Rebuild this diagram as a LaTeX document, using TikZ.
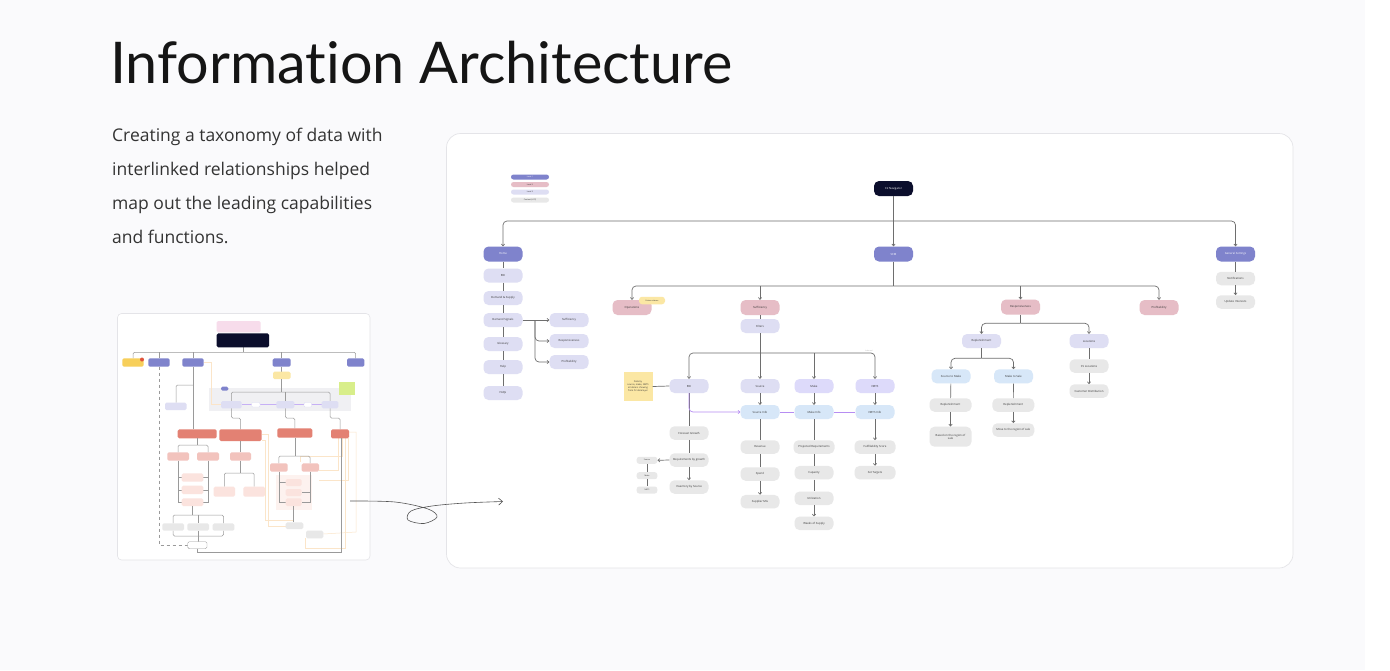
\documentclass[tikz,border=0pt]{standalone}
\usepackage{fontspec}
\setmainfont{Open Sans}
\newfontfamily\titlefont[Ligatures={NoCommon}]{Lato}
\usetikzlibrary{arrows.meta}
\definecolor{bgc}{HTML}{FAFAFC}
\definecolor{panelb}{HTML}{E4E4E8}
\definecolor{titlec}{HTML}{151515}
\definecolor{bodyc}{HTML}{333333}
\definecolor{lvone}{HTML}{7F83CC}
\definecolor{pinkc}{HTML}{E6BDC6}
\definecolor{lavc}{HTML}{DEDEF3}
\definecolor{lavd}{HTML}{DDDAFA}
\definecolor{grayc}{HTML}{E8E8E8}
\definecolor{bluec}{HTML}{D7E7F8}
\definecolor{yelc}{HTML}{FBE7A4}
\definecolor{darkc}{HTML}{0B0E2C}
\definecolor{linec}{HTML}{6E6E6E}
\definecolor{purpc}{HTML}{B68DF2}
\definecolor{txtc}{HTML}{333333}
\definecolor{tline}{HTML}{9A9A9A}
\definecolor{peach}{HTML}{FBE5C9}
\definecolor{salmon}{HTML}{E38173}
\definecolor{pinkt}{HTML}{F2C3BD}
\definecolor{pinkl}{HTML}{FBE3DE}
\definecolor{bandc}{HTML}{F0F0F3}
\definecolor{pnote}{HTML}{F7DCEB}
\definecolor{yelt}{HTML}{F7CF5A}
\definecolor{redb}{HTML}{E0533D}
\definecolor{greenn}{HTML}{D8EE8A}
\definecolor{purpl}{HTML}{C6B0F5}
\definecolor{clbg}{HTML}{FDF2EF}
\definecolor{inbc}{HTML}{B0B0B0}
\definecolor{curlc}{HTML}{555555}
\newcommand\nf{\fontsize{2.8}{3.3}\selectfont}
\newcommand\lf{\fontsize{1.9}{2.2}\selectfont}
\tikzset{
 nd/.style={rounded corners=5pt, minimum width=39pt, minimum height=14pt, inner sep=0.5pt, font=\nf, align=center, text=txtc},
 Lone/.style={nd, fill=lvone, text=white, minimum height=15pt},
 Ltwo/.style={nd, fill=pinkc, minimum height=15pt},
 Lthree/.style={nd, fill=lavc},
 cont/.style={nd, fill=grayc, minimum height=13.5pt},
 bluebox/.style={nd, fill=bluec},
 leg/.style={rounded corners=2.5pt, minimum width=38pt, minimum height=5pt, inner sep=0pt, font=\lf, text=txtc},
 conn/.style={draw=linec, line width=0.7pt},
 arr/.style={conn, -{Straight Barb[length=1.8pt,width=3.4pt]}},
 purp/.style={draw=purpc, line width=0.7pt},
 rc/.style={rounded corners=4pt},
 tl/.style={draw=tline, line width=0.5pt},
 tp/.style={draw=peach, line width=0.5pt},
 tb/.style={rounded corners=1.5pt},
}
\begin{document}
\begin{tikzpicture}[x=1pt,y=-1pt]
\useasboundingbox (0,0) rectangle (1390,670);
\fill[white] (0,0) rectangle (1390,670);
\fill[bgc] (0,0) rectangle (1365,670);

% ---------- heading and text ----------
\node[anchor=base west, inner sep=0pt, text=titlec, font=\titlefont\fontsize{57.5}{60}\selectfont] (title) at (110,83) {Information Architecture};
\node[anchor=base west, inner sep=0pt, text=bodyc, font=\fontsize{17.5}{20}\selectfont] (l1) at (112,141) {Creating a taxonomy of data with};
\node[anchor=base west, inner sep=0pt, text=bodyc, font=\fontsize{17.5}{20}\selectfont] (l2) at (112,175) {interlinked relationships helped};
\node[anchor=base west, inner sep=0pt, text=bodyc, font=\fontsize{17.5}{20}\selectfont] (l3) at (112,209) {map out the leading capabilities};
\node[anchor=base west, inner sep=0pt, text=bodyc, font=\fontsize{17.5}{20}\selectfont] (l4) at (112,243) {and functions.};

% ---------- thumbnail ----------
\draw[draw=panelb, fill=white, rounded corners=4pt, line width=0.6pt] (117.5,313.5) rectangle (370,560);
\fill[bandc] (209,387.7) rectangle (351,410.7);
\draw[tp] (203.7,362.5) -- (211.7,362.5) -- (211.7,404.5) -- (221,404.5);
\draw[tp] (261.7,434) -- (268,434) -- (268,526) -- (285.7,526);
\draw[tp] (349,432) -- (356,432) -- (356,532) -- (323.3,534);
\draw[tp] (342,438.3) -- (342,456) -- (300,456) -- (300,462);
\draw[tp] (345,438.3) -- (345,548) -- (305,548) -- (305,538);
\draw[tp] (348,438.3) -- (348,480) -- (319,480);
\draw[tp] (262,440) -- (265,440) -- (265,520) -- (294,520);
\draw[tp] (338,438.3) -- (338,470) -- (319,470);
\draw[tl] (243,347.3) -- (243,352.3);
\draw[tl, rounded corners=1.5pt] (133,358.3) |- (355.7,352.3) -- (355.7,358.3);
\draw[tl] (159,352.3) -- (159,358.3);
\draw[tl] (193,352.3) -- (193,358.3);
\draw[tl] (281.7,352.3) -- (281.7,358.3);
\fill[pnote, tb] (216.7,321) rectangle (260.7,332.3);
\fill[darkc, tb] (216.7,333.3) rectangle (269,347.3);
\fill[yelt, tb] (122.3,358.3) rectangle (143.7,366.7);
\fill[redb] (142,359.5) circle (2pt);
\fill[lvone, tb] (148.3,358.3) rectangle (169.7,366.7);
\fill[lvone, tb] (182.3,358.3) rectangle (203.7,366.7);
\fill[lvone, tb] (272.7,358.3) rectangle (290.7,366.7);
\fill[lvone, tb] (347,358.3) rectangle (364.3,366.7);
\draw[tl] (281.7,366.7) -- (281.7,371.7);
\fill[yelc, tb] (273,371.7) rectangle (290.7,379);
\draw[tl, rounded corners=1.5pt] (231.3,401) |- (330,392) -- (330,401);
\draw[tl] (281.7,379) -- (281.7,392);
\draw[tl] (285.3,392) -- (285.3,401);
\fill[lvone, tb] (221,386.7) rectangle (228.3,390.7);
\fill[greenn] (339.3,381.7) rectangle (355,395);
\draw[draw=purpl, line width=0.5pt] (241.7,404.7) -- (321.7,404.7);
\fill[lavc, tb] (221,401) rectangle (241.7,408.3);
\fill[lavc, tb] (276.3,401) rectangle (294.3,408.3);
\fill[lavc, tb] (321.7,401) rectangle (338.3,408.3);
\draw[draw=lavc, fill=white, line width=0.4pt, rounded corners=1pt] (251.7,402.5) rectangle (260,407);
\draw[draw=lavc, fill=white, line width=0.4pt, rounded corners=1pt] (304,402.5) rectangle (311.7,407);
\draw[tl] (193,366.7) -- (193,429.3);
\draw[tl, rounded corners=1.5pt] (193,385) -| (176,402.7);
\fill[lavc, tb] (165,402.7) rectangle (186.7,410);
\draw[tl, rounded corners=1.5pt] (231.3,408.3) |- (240.5,418) -- (240.5,429.3);
\draw[tl, rounded corners=1.5pt] (285.3,408.3) |- (294.8,418) -- (294.8,428.3);
\draw[tl, rounded corners=1.5pt] (330,408.3) |- (340,418) -- (340,429.3);
\fill[salmon, tb] (177.7,429.3) rectangle (216.7,438.3);
\fill[salmon, tb] (219.3,429.3) rectangle (261.7,441);
\fill[salmon, tb] (277.3,428.3) rectangle (312.3,437.7);
\fill[salmon, tb] (331,429.3) rectangle (349,438.3);
\draw[tl, rounded corners=1.5pt] (178,452.3) |- (208,445) -- (208,452.3);
\draw[tl] (197,438.3) -- (197,445);
\draw[tl] (240.5,441) -- (240.5,452.3);
\draw[tl, rounded corners=1.5pt] (278.8,463.3) |- (310,456) -- (310,463.3);
\draw[tl] (294.8,437.7) -- (294.8,456);
\fill[pinkt, tb] (167.3,452.3) rectangle (189,460.7);
\fill[pinkt, tb] (197,452.3) rectangle (219,460.7);
\fill[pinkt, tb] (230,452.3) rectangle (251,460.7);
\fill[pinkt, tb] (270,463.3) rectangle (287.7,471.7);
\fill[pinkt, tb] (301.7,463.3) rectangle (319,471.7);
\draw[tl] (178,460.7) -- (178,502) -- (181.7,502);
\draw[tl] (208,460.7) -- (208,502) -- (203.3,502);
\draw[tl] (178,477.5) -- (181.7,477.5);
\draw[tl] (178,489.8) -- (181.7,489.8);
\draw[tl] (208,477.5) -- (203.3,477.5);
\draw[tl] (208,489.8) -- (203.3,489.8);
\fill[pinkl, tb] (181.7,473.3) rectangle (203.3,481.7);
\fill[pinkl, tb] (181.7,485.7) rectangle (203.3,494);
\fill[pinkl, tb] (181.7,498.3) rectangle (203.3,506);
\draw[tl, rounded corners=1.5pt] (224.3,486.7) |- (254.2,473) -- (254.2,486.7);
\draw[tl] (240.5,460.7) -- (240.5,473);
\fill[pinkl, tb] (213.7,486.7) rectangle (235,496.7);
\fill[pinkl, tb] (243.3,486.7) rectangle (265,496.7);
\fill[clbg] (276,475) rectangle (312,510);
\draw[tl] (278.8,471.7) -- (278.8,502) -- (285.7,502);
\draw[tl] (310,471.7) -- (310,502) -- (301.7,502);
\draw[tl] (278.8,482.5) -- (285.7,482.5);
\draw[tl] (310,492.5) -- (301.7,492.5);
\fill[pinkl, tb] (285.7,479) rectangle (301.7,486);
\fill[pinkl, tb] (285.7,489) rectangle (301.7,496);
\fill[pinkl, tb] (285.7,498.3) rectangle (301.7,506);
\draw[tl] (293.7,506) -- (293.7,522.3);
\fill[grayc, tb] (285.7,522.3) rectangle (303.3,529);
\fill[grayc, tb] (306,530.7) rectangle (323.3,538.3);
\draw[tl] (192.5,506) -- (192.5,515);
\draw[tl, rounded corners=1.5pt] (173,523.3) |- (223.5,515) -- (223.5,523.3);
\draw[tl] (198,515) -- (198,523.3);
\draw[tl, rounded corners=1.5pt] (173,530.7) |- (223.5,536) -- (223.5,530.7);
\draw[tl] (198,530.7) -- (198,541.7);
\fill[grayc, tb] (162.3,523.3) rectangle (184,530.7);
\fill[grayc, tb] (187.3,523.3) rectangle (209,530.7);
\fill[grayc, tb] (212.7,523.3) rectangle (234.3,530.7);
\draw[tl, dashed] (159,366.7) -- (159,545) -- (187.7,545);
\draw[draw=tline, fill=white, line width=0.4pt, tb] (187.7,541.7) rectangle (207,548.7);
\draw[tl] (197,548.7) -- (197,552.3) -- (341.7,552.3) -- (341.7,438.3);

% ---------- main panel ----------
\draw[draw=panelb, fill=white, rounded corners=14pt, line width=0.7pt] (446.5,133.5) rectangle (1293,568);

% ---------- curly arrow ----------
\draw[draw=curlc, line width=0.6pt, -{Straight Barb[length=4pt,width=7pt]}] plot[smooth, tension=0.55] coordinates {(350,501) (395,502) (428,509) (437,517) (424,523.5) (408,520) (411,511) (432,506) (465,503) (503,501.5)};

\node[leg, fill=lvone, text=white] (lg1) at (530,177) {Level 1};
\node[leg, fill=pinkc] (lg2) at (530,184.5) {Level 2};
\node[leg, fill=lavc] (lg3) at (530,192) {Level 3};
\node[leg, fill=grayc] (lg4) at (530,200) {Content (LIST)};

\node[nd, fill=darkc, text=white, minimum height=15pt] (c2) at (893.5,188.5) {C2 Navigator};
\node[Lone] (home) at (503,254) {Home};
\node[Lone] (scm) at (893.5,254) {SCM};
\node[Lone] (gs) at (1235.5,254) {General Settings};
\coordinate (bus1) at (893.5,221);
\draw[conn] (c2.south) -- (bus1);
\draw[arr, rc] (bus1) -| (home.north);
\draw[arr, rc] (bus1) -| (gs.north);
\draw[arr] (bus1) -- (scm.north);

\node[Lthree] (edi) at (503,275.5) {EDI};
\node[Lthree] (ds) at (503,298) {Demand \& Supply};
\node[Lthree] (dsig) at (503,320) {Demand Signals};
\node[Lthree] (glos) at (503,344) {Glossary};
\node[Lthree] (help) at (503,367) {Help};
\node[Lthree] (faq) at (503,393) {FAQs};
\draw[conn] (home) -- (edi);
\draw[conn] (edi) -- (ds);
\draw[conn] (ds) -- (dsig);
\draw[conn] (dsig) -- (glos);
\draw[conn] (glos) -- (help);
\draw[conn] (help) -- (faq);
\node[Lthree] (suf) at (569,320) {Sufficiency};
\node[Lthree] (resp) at (569,341) {Responsiveness};
\node[Lthree] (prof) at (569,362) {Profitability};
\coordinate (br1) at (535,320);
\draw[arr] (dsig.east) -- (suf.west);
\draw[arr, rc] (br1) |- (resp.west);
\draw[arr, rc] (br1) |- (prof.west);

\node[cont] (notif) at (1235.5,278.5) {Notifications};
\node[cont] (upd) at (1235.5,302) {Update Interests};
\draw[conn] (gs) -- (notif);
\draw[arr] (notif) -- (upd);

\coordinate (bus2) at (893.5,286);
\node[Ltwo] (ops) at (632,307.5) {Operations};
\node[Ltwo] (sufm) at (760,307.5) {Sufficiency};
\node[Ltwo] (respm) at (1020.5,307) {Responsiveness};
\node[Ltwo] (profm) at (1159,307.5) {Profitability};
\draw[conn] (scm.south) -- (bus2);
\draw[arr, rc] (bus2) -| (ops.north);
\draw[arr, rc] (bus2) -| (profm.north);
\draw[arr] (sufm.north |- bus2) -- (sufm.north);
\draw[arr] (respm.north |- bus2) -- (respm.north);
\node[rounded corners=3pt, fill=yelc, minimum width=26pt, minimum height=7.5pt, inner sep=0pt, font=\lf, text=txtc] (soon) at (652,300.5) {Future release};

\node[Lthree] (filt) at (760,326) {Filters};
\draw[conn] (sufm) -- (filt);
\coordinate (bus3) at (760,353);
\node[Lthree] (ediB) at (689,386) {EDI};
\node[Lthree] (src) at (760,386) {Source};
\node[nd, fill=lavd] (make) at (814,386) {Make};
\node[nd, fill=lavd] (nbts) at (875,386) {NBTS};
\draw[conn] (filt.south) -- (bus3);
\draw[arr, rc] (bus3) -| (ediB.north);
\draw[arr, rc] (bus3) -| (nbts.north);
\draw[arr] (bus3) -- (src.north);
\draw[arr] (make.north |- bus3) -- (make.north);
\node[font=\fontsize{1.8}{2}\selectfont, text=inbc, inner sep=0pt] (inb) at (869,350.5) {Inbound};
\node[fill=yelc, minimum width=29pt, minimum height=29pt, inner sep=0.5pt, font=\fontsize{2.3}{2.9}\selectfont, align=center, text=txtc] (sticky) at (638,386.5) {Data by\\source, make, NBTS\\all data is showing\\from C2 data layer};
\draw[conn] (sticky.east) -- (ediB.west);

\node[bluebox] (srci) at (760,412) {Source Info};
\node[bluebox] (makei) at (814,412) {Make Info};
\node[bluebox] (nbtsi) at (875,412) {NBTS Info};
\draw[arr] (src) -- (srci);
\draw[arr] (make) -- (makei);
\draw[arr] (nbts) -- (nbtsi);

\node[cont] (fg) at (689,433) {Forecast Growth};
\node[cont] (rbg) at (689,460) {Requirements by growth};
\node[cont] (ibs) at (689,487) {Inventory by Source};
\draw[conn] (ediB) -- (fg);
\draw[purp, rc, -{Straight Barb[length=1.8pt,width=3.4pt]}] (ediB.south) |- (srci.west);
\draw[purp] (srci) -- (makei);
\draw[purp] (makei) -- (nbtsi);
\draw[conn] (fg) -- (rbg);
\draw[arr] (rbg) -- (ibs);
\node[cont, minimum width=20.6pt, minimum height=7pt, rounded corners=2.5pt, font=\lf] (s1) at (647,460.3) {Source};
\node[cont, minimum width=20.6pt, minimum height=7pt, rounded corners=2.5pt, font=\lf] (s2) at (647,475.7) {Make};
\node[cont, minimum width=20.6pt, minimum height=7pt, rounded corners=2.5pt, font=\lf] (s3) at (647,490) {NBTS};
\draw[arr] (rbg.west) -- (s1.east);
\draw[conn] (s1) -- (s2);
\draw[conn] (s2) -- (s3);

\node[cont] (rev) at (760,447) {Revenue};
\node[cont] (spend) at (760,474) {Spend};
\node[cont] (smix) at (760,501.7) {Supplier Mix};
\draw[conn] (srci) -- (rev);
\draw[conn] (rev) -- (spend);
\draw[arr] (spend) -- (smix);

\node[cont, minimum width=41pt] (proj) at (814,447) {Projected Requirements};
\node[cont] (cap) at (814,472.7) {Capacity};
\node[cont] (util) at (814,498.3) {Utilization};
\node[cont] (wos) at (814,523.3) {Weeks of Supply};
\draw[conn] (makei) -- (proj);
\draw[conn] (proj) -- (cap);
\draw[conn] (cap) -- (util);
\draw[arr] (util) -- (wos);

\node[cont, minimum width=41pt] (ful) at (875,447) {Fulfillability Score};
\node[cont, minimum width=41pt] (tgt) at (875,472.7) {Set Targets};
\draw[arr] (nbtsi) -- (ful);
\draw[arr] (ful) -- (tgt);

\coordinate (bus4) at (1020.5,323.3);
\node[Lthree] (repl) at (981.5,341) {Replenishment};
\node[Lthree] (loc) at (1089,341) {Locations};
\draw[conn] (respm.south) -- (bus4);
\draw[arr, rc] (bus4) -| (repl.north);
\draw[arr, rc] (bus4) -| (loc.north);
\coordinate (bus5) at (981.5,358.3);
\node[bluebox] (stm) at (951,376.3) {Source to Make};
\node[bluebox] (mts) at (1013.5,376.3) {Make to Sale};
\draw[conn] (repl.south) -- (bus5);
\draw[arr, rc] (bus5) -| (stm.north);
\draw[arr, rc] (bus5) -| (mts.north);
\node[cont, minimum width=42pt] (r1) at (950.5,405) {Replenishment};
\node[cont, minimum width=42pt, minimum height=20pt] (based) at (950.5,436.7) {Based on the region of\\sale};
\draw[conn] (stm) -- (r1);
\draw[arr] (r1) -- (based);
\node[cont, minimum width=42pt] (r2) at (1013.3,405) {Replenishment};
\node[cont, minimum width=42pt] (move) at (1013.3,430) {Move to the region of sale};
\draw[conn] (mts) -- (r2);
\draw[arr] (r2) -- (move);
\node[cont] (csl) at (1089,366) {CS Locations};
\node[cont] (cdist) at (1089,391) {Customer Distribution};
\draw[conn] (loc) -- (csl);
\draw[arr] (csl) -- (cdist);
\end{tikzpicture}
\end{document}
